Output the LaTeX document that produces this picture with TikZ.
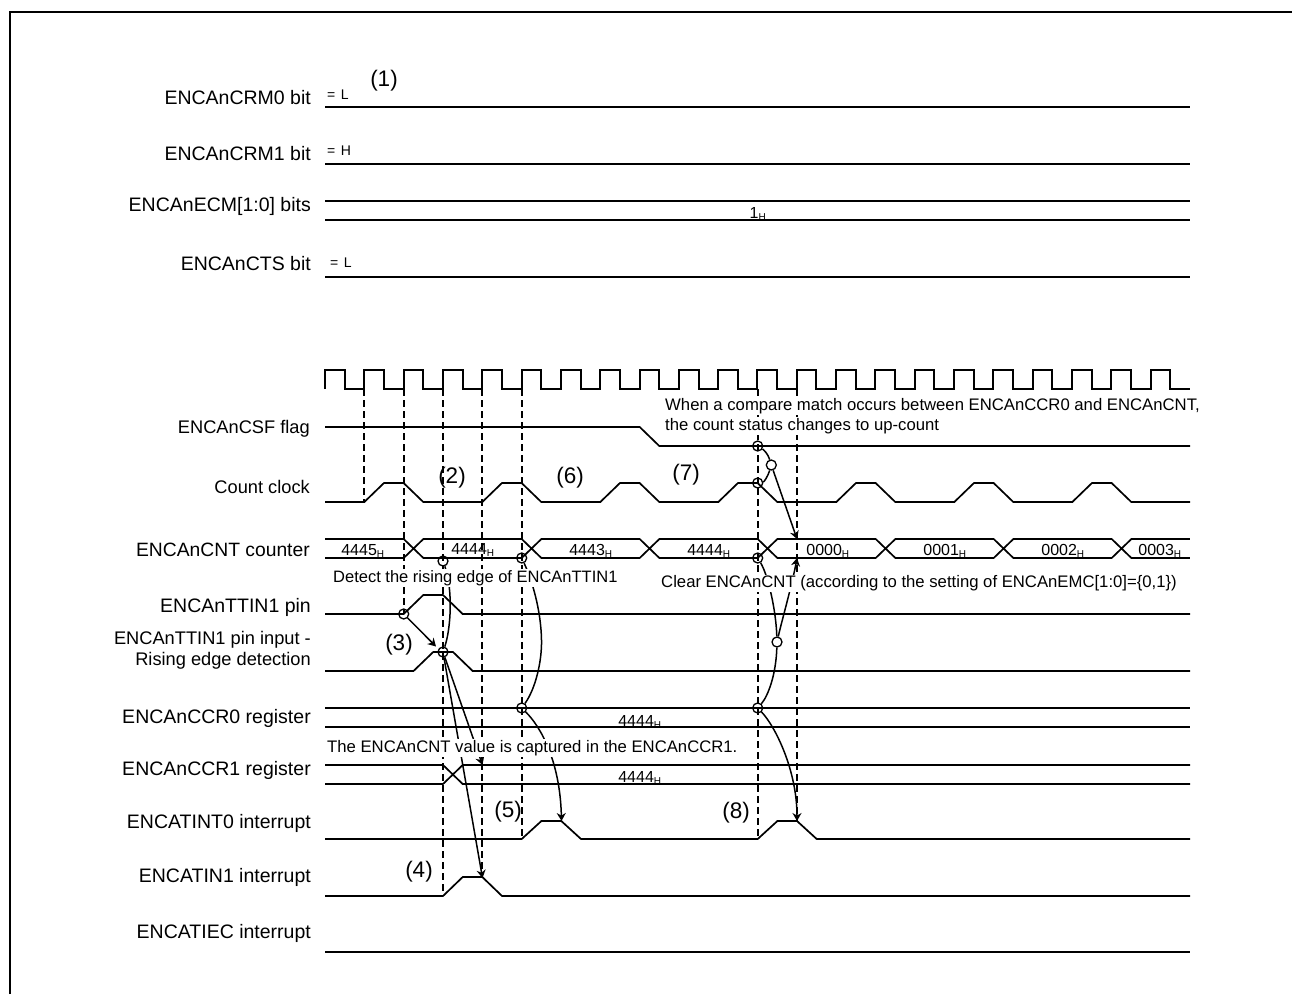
\documentclass[tikz,border=0pt]{standalone}
\usepackage{fontspec}
\setmainfont{Liberation Sans}
\usetikzlibrary{arrows.meta}
\newcommand{\hx}[1]{#1\textsubscript{\fontsize{10}{10}\selectfont H}}
\tikzset{
 sig/.style={line width=1.7pt,line join=miter},
 frameline/.style={line width=2pt},
 guide/.style={line width=1.5pt,dash pattern=on 7pt off 4pt},
 conn/.style={line width=1.5pt},
 arr/.style={conn,-{Stealth[length=8pt,width=9pt]}},
 ring/.style={draw,circle,line width=1.3pt,minimum size=10pt,inner sep=0pt},
 siglabel/.style={anchor=east,font=\fontsize{19.5}{21}\selectfont,align=right,inner sep=0pt},
 siglabelsm/.style={anchor=east,font=\fontsize{18.25}{21}\selectfont,align=right,inner sep=0pt},
 note/.style={anchor=west,font=\fontsize{16.7}{20}\selectfont,fill=white,inner sep=1pt,align=left},
 num/.style={font=\fontsize{22.5}{24}\selectfont,inner sep=0pt},
 val/.style={font=\fontsize{16}{18}\selectfont,inner sep=0pt},
 lvl/.style={anchor=west,font=\fontsize{14}{15}\selectfont,inner sep=0pt},
}
\begin{document}
\begin{tikzpicture}[x=1pt,y=-1pt]
\useasboundingbox (0,0) rectangle (1292,994);
\draw[frameline] (9.5,994) -- (9.5,12) -- (1292,12);
% static lines
\draw[sig] (325,107)--(1190,107);
\draw[sig] (325,164)--(1190,164);
\draw[sig] (325,201)--(1190,201) (325,220)--(1190,220);
\draw[sig] (325,277)--(1190,277);
% clock
\def\P{39.318}
\draw[sig] (325,389)
 \foreach \k in {0,...,21}{ -- ({round(325+\k*\P)},389) -- ({round(325+\k*\P)},370) -- ({round(325+(\k+.5)*\P)},370) -- ({round(325+(\k+.5)*\P)},389) } -- (1190,389);
% guides
\foreach \x/\e in {364/502,404/614,443/896,482/877,522/839,758/839,797/821}
 \draw[guide] (\x,389)--(\x,\e);
% CSF
\draw[sig] (325,427)--(639.7,427)--(659.3,446)--(1190,446);
% count clock
\draw[sig] (325,502)
 \foreach \r in {364.3,482.3,600.3,718.3,836.3,954.3,1072.3}{ -- (\r,502) -- ({\r+19.66},483) -- ({\r+39.32},483) -- ({\r+58.98},502) } -- (1190,502);
% CNT bus
\foreach \t in {403.7,521.7,639.7,757.7,875.7,993.7,1111.7}
 \draw[sig] (\t,539)--({\t+19.66},558) (\t,558)--({\t+19.66},539);
\foreach \a/\b in {325/403.7,423.36/521.7,541.36/639.7,659.36/757.7,777.36/875.7,895.36/993.7,1013.36/1111.7,1131.36/1190}
 \draw[sig] (\a,539)--(\b,539) (\a,558)--(\b,558);
% TTIN1
\draw[sig] (325,614)--(403.7,614)--(423.3,595)--(443,595)--(462.7,614)--(1190,614);
\draw[sig] (325,671)--(413.5,671)--(433.2,652)--(453,652)--(472.7,671)--(1190,671);
% CCR0
\draw[sig] (325,708)--(1190,708) (325,727)--(1190,727);
% CCR1
\draw[sig] (325,765)--(443,765)--(462.7,784)--(1190,784);
\draw[sig] (325,784)--(443,784)--(462.7,765)--(1190,765);
% INT0
\draw[sig] (325,839)--(521.7,839)--(541.4,821)--(561.3,821)--(581,839)--(757.7,839)--(777.4,821)--(797,821)--(816.7,839)--(1190,839);
% IN1
\draw[sig] (325,896)--(443,896)--(462.7,877)--(482.3,877)--(502,896)--(1190,896);
% IEC
\draw[sig] (325,952)--(1190,952);
% rings
\node[ring] (r1) at (403.7,614) {};
\node[ring] (r2) at (443,652) {};
\node[ring] (r3) at (443,561) {};
\node[ring] (r4) at (521.7,558) {};
\node[ring] (r5) at (521.7,708) {};
\node[ring] (r6) at (757.7,446) {};
\node[ring] (r7) at (757.7,483) {};
\node[ring] (r8) at (771.3,465) {};
\node[ring] (r9) at (757.7,558) {};
\node[ring] (r10) at (757.7,708) {};
\node[ring] (r11) at (777,642) {};
% arrow ends
\coordinate (e1) at (436,646.5);
\coordinate (e2) at (482.5,765);
\coordinate (e3) at (482.5,878);
\coordinate (e4) at (561.5,821);
\coordinate (e5) at (797,539);
\coordinate (e6) at (797,558);
\coordinate (e7) at (797,821);
% connectors
\draw[arr] (r1)--(e1);
\draw[conn] (r2) .. controls (451,628) and (453,590) .. (r3);
\draw[arr] (r2)--(e2);
\draw[arr] (r2)--(e3);
\draw[conn] (r5) .. controls (536,688) and (542,660) .. (541.5,640) .. controls (541,610) and (532,580) .. (r4);
\draw[arr] (r5) .. controls (540,726) and (560,760) .. (e4);
\draw[conn] (r6) .. controls (764,450) and (768,454) .. (r8);
\draw[conn] (r7) .. controls (764,482) and (768,476) .. (r8);
\draw[arr] (r8)--(e5);
\draw[conn] (r9) .. controls (768,575) and (776,610) .. (r11);
\draw[conn] (r10) .. controls (768,696) and (776,675) .. (r11);
\draw[arr] (r11) .. controls (782,620) and (792,585) .. (e6);
\draw[arr] (r10) .. controls (775,726) and (797,770) .. (e7);
% notes
\node[note] (n1) at (664,406.5) {When a compare match occurs between ENCAnCCR0 and ENCAnCNT,};
\node[note] (n2) at (664,426) {the count status changes to up-count};
\node[note,font=\fontsize{16.5}{20}\selectfont] (n3) at (332,578) {Detect the rising edge of ENCAnTTIN1};
\node[note] (n4) at (660,583.5) {Clear ENCAnCNT (according to the setting of ENCAnEMC[1:0]=\{0,1\})};
\node[note] (n5) at (326,748) {The ENCAnCNT value is captured in the ENCAnCCR1.};
% numbers
\node[num] (m1) at (384,80.5) {(1)};
\node[num] (m2) at (452,477.5) {(2)};
\node[num] (m3) at (399,644.5) {(3)};
\node[num] (m4) at (419,871.5) {(4)};
\node[num] (m5) at (508,811.5) {(5)};
\node[num] (m6) at (570,477.5) {(6)};
\node[num] (m7) at (686,474.5) {(7)};
\node[num] (m8) at (736,812.5) {(8)};
% signal labels
\node[siglabel] (l1) at (311,98) {ENCAnCRM0 bit};
\node[siglabel] (l2) at (311,154) {ENCAnCRM1 bit};
\node[siglabel] (l3) at (311,206) {ENCAnECM[1:0] bits};
\node[siglabel] (l4) at (311,264) {ENCAnCTS bit};
\node[siglabelsm] (l5) at (310,429) {ENCAnCSF flag};
\node[siglabelsm] (l6) at (310,487) {Count clock};
\node[siglabel,font=\fontsize{19.3}{21}\selectfont] (l7) at (310,550) {ENCAnCNT counter};
\node[siglabel] (l8) at (311,607) {ENCAnTTIN1 pin};
\node[siglabelsm] (l9) at (311,650.5) {ENCAnTTIN1 pin input -\\Rising edge detection};
\node[siglabel] (l10) at (311,718) {ENCAnCCR0 register};
\node[siglabel] (l11) at (311,770) {ENCAnCCR1 register};
\node[siglabel] (l12) at (311,823) {ENCATINT0 interrupt};
\node[siglabel] (l13) at (311,877) {ENCATIN1 interrupt};
\node[siglabel] (l14) at (311,933) {ENCATIEC interrupt};
% levels
\node[lvl] (v1) at (327,94.5) {=\hspace{5.5pt}L};
\node[lvl] (v2) at (327,151) {=\hspace{5.5pt}H};
\node[lvl] (v3) at (330,263) {=\hspace{5.5pt}L};
% values
\node[val] (b1) at (758,214) {\hx{1}};
\node[val] (b2) at (363,551) {\hx{4445}};
\node[val] (b3) at (473,550) {\hx{4444}};
\node[val] (b4) at (591,551) {\hx{4443}};
\node[val] (b5) at (709,551) {\hx{4444}};
\node[val] (b6) at (828,551) {\hx{0000}};
\node[val] (b7) at (945,551) {\hx{0001}};
\node[val] (b8) at (1063,551) {\hx{0002}};
\node[val] (b9) at (1160,551) {\hx{0003}};
\node[val] (b10) at (640,722) {\hx{4444}};
\node[val] (b11) at (640,778) {\hx{4444}};
\end{tikzpicture}
\end{document}
